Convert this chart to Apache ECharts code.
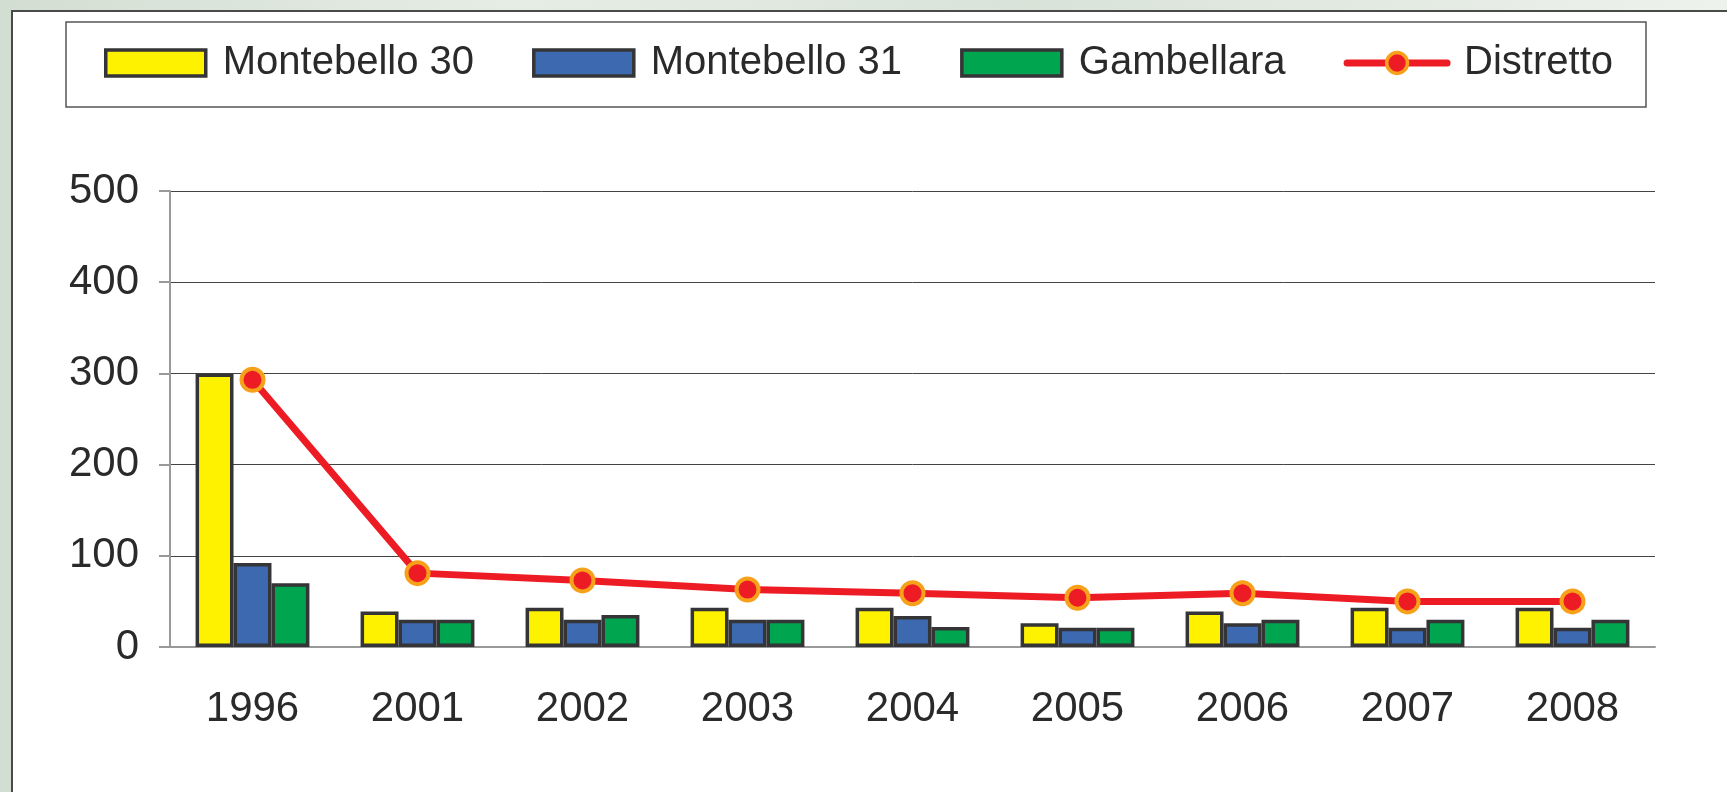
<!DOCTYPE html>
<html>
<head>
<meta charset="utf-8">
<script src="https://cdn.jsdelivr.net/npm/echarts@6/dist/echarts.min.js"></script>
<style>
  html, body {
    margin: 0;
    padding: 0;
    width: 1727px;
    height: 792px;
    overflow: hidden;
    background: linear-gradient(90deg, #d3ded2 0%, #e6ede5 30%, #d9e3d8 60%, #eef2ed 100%);
  }
  #panel {
    position: absolute;
    left: 11px;
    top: 10px;
    right: 0;
    bottom: 0;
    background: #fff;
    border-top: 2px solid #4a4a4a;
    border-left: 2px solid #4a4a4a;
  }
  #chart {
    position: absolute;
    left: 0;
    top: 0;
    width: 1727px;
    height: 792px;
  }
</style>
</head>
<body>
<div id="panel"></div>
<div id="chart"></div>
<script>
// valori
const anni = ["1996", "2001", "2002", "2003", "2004", "2005", "2006", "2007", "2008"];
const montebello30 = [300, 39, 43, 43, 43, 26, 39, 43, 43];
const montebello31 = [92, 30, 30, 30, 34, 21, 26, 21, 21];
const gambellara = [70, 30, 35, 30, 22, 21, 30, 30, 30];
const distretto = [293, 81, 73, 63, 59, 54, 59, 50, 50];

const font = "'Liberation Sans', Arial, sans-serif";
const bordo = "#353537";

function barra(name, color, data) {
  return {
    name: name,
    type: "bar",
    data: data,
    barGap: "0%",
    barCategoryGap: "31%",
    itemStyle: {
      color: color,
      borderColor: bordo,
      borderWidth: 3.5,
    },
  };
}

function voceBarra(name) {
  return {
    name: name,
    icon: "rect",
    itemStyle: { borderColor: bordo, borderWidth: 3.5 },
  };
}

const myChart = echarts.init(document.getElementById("chart"));
myChart.setOption({
  animation: false,
  backgroundColor: "transparent",
  graphic: [
    {
      type: "rect",
      shape: { x: 66, y: 22, width: 1580, height: 85 },
      style: { fill: "none", stroke: "#555", lineWidth: 1.5 },
      z: -1,
    },
  ],
  legend: {
    left: 99,
    top: 37,
    itemWidth: 100,
    itemHeight: 26,
    itemGap: 58,
    textStyle: {
      fontFamily: font,
      fontSize: 40,
      color: "#2a2a2a",
      lineHeight: 42,
      padding: [0, 0, 0, 12],
    },
    data: [
      voceBarra("Montebello 30"),
      voceBarra("Montebello 31"),
      voceBarra("Gambellara"),
      {
        name: "Distretto",
        lineStyle: { width: 7, color: "#ed1c24", cap: "round" },
        itemStyle: { color: "#ed1c24", borderColor: "#f7a11a", borderWidth: 3.5 },
      },
    ],
  },
  grid: {
    left: 170,
    right: 72,
    top: 191,
    bottom: 145,
  },
  xAxis: {
    type: "category",
    data: anni,
    axisLine: { lineStyle: { color: "#999", width: 2 } },
    axisTick: { length: 11, lineStyle: { color: "#777", width: 1 } },
    axisLabel: {
      fontFamily: font,
      fontSize: 42,
      color: "#2a2a2a",
      margin: 41,
    },
  },
  yAxis: {
    type: "value",
    min: 0,
    max: 500,
    interval: 100,
    axisLine: { show: true, lineStyle: { color: "#999", width: 2 } },
    axisTick: { show: true, length: 11, lineStyle: { color: "#999", width: 2 } },
    axisLabel: {
      fontFamily: font,
      fontSize: 42,
      color: "#2a2a2a",
      margin: 31,
    },
    splitLine: { lineStyle: { color: "#444", width: 1 } },
  },
  series: [
    barra("Montebello 30", "#fff200", montebello30),
    barra("Montebello 31", "#3d69b1", montebello31),
    barra("Gambellara", "#00a54f", gambellara),
    {
      name: "Distretto",
      type: "line",
      data: distretto,
      symbol: "circle",
      symbolSize: 22,
      z: 5,
      lineStyle: { color: "#ed1c24", width: 7, cap: "round" },
      itemStyle: {
        color: "#ed1c24",
        borderColor: "#f7a11a",
        borderWidth: 4,
      },
    },
  ],
});
</script>
</body>
</html>
